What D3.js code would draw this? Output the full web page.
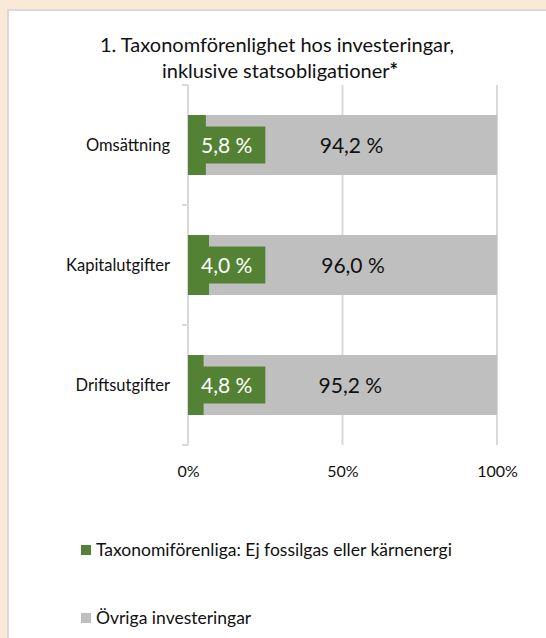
<!DOCTYPE html>
<html>
<head>
<meta charset="utf-8">
<script src="https://cdn.jsdelivr.net/npm/d3@7"></script>
<style>
  html, body { margin: 0; padding: 0; background: #fbe9d7; }
  svg { display: block; font-family: Lato, "Open Sans", sans-serif; }
</style>
</head>
<body>
<div id="chart"></div>
<script>
const categories = ['Omsättning', 'Kapitalutgifter', 'Driftsutgifter'],
	aligned = [5.8, 6.8, 5.1],          // bar lengths as drawn, in %
	alignedLabels = ['5,8 %', '4,0 %', '4,8 %'],
	otherLabels = ['94,2 %', '96,0 %', '95,2 %'],
	xTicks = [0, 50, 100],
	seriesNames = ['Taxonomiförenliga: Ej fossilgas eller kärnenergi', 'Övriga investeringar'],
	colors = ['#548235', '#bfbfbf'],
	width = 546,
	height = 638;

const svg = d3.select('#chart')
	.append('svg')
	.attr('width', width)
	.attr('height', height);

// white panel with grey edge
svg.append('rect')
	.attr('x', 8).attr('y', 10)
	.attr('width', width).attr('height', height)
	.attr('fill', 'white')
	.attr('stroke', '#d9d9d9')
	.attr('stroke-width', 2);

// title
svg.append('text')
	.attr('x', 277).attr('y', 52)
	.attr('text-anchor', 'middle')
	.attr('font-size', 20)
	.attr('fill', '#111')
	.text('1. Taxonomförenlighet hos investeringar,');
const t2 = svg.append('text')
	.attr('x', 280).attr('y', 78)
	.attr('text-anchor', 'middle')
	.attr('font-size', 20)
	.attr('fill', '#111');
t2.append('tspan').text('inklusive statsobligationer');
t2.append('tspan').attr('font-weight', 'bold').text('*');

// scales
let x = d3.scaleLinear().domain([0, 100]).range([188, 497]);
let y = d3.scaleBand().domain(categories).range([85, 445])
	.paddingInner(0.5).paddingOuter(0.25);

// gridlines
svg.append('g')
	.selectAll('line')
	.data(xTicks.slice(1))
	.enter()
	.append('line')
		.attr('x1', d => x(d)).attr('x2', d => x(d))
		.attr('y1', 85).attr('y2', 445)
		.attr('stroke', '#d9d9d9')
		.attr('stroke-width', 2);

// category axis: line plus ticks between categories
const bounds = d3.range(categories.length + 1).map(i => y.range()[0] + i * y.step());
const yAxisG = svg.append('g');
yAxisG.append('line')
	.attr('x1', x(0)).attr('x2', x(0))
	.attr('y1', 85).attr('y2', 445)
	.attr('stroke', '#d9d9d9').attr('stroke-width', 2);
yAxisG.selectAll('line.tick')
	.data(bounds)
	.enter()
	.append('line')
		.attr('class', 'tick')
		.attr('x1', x(0) - 6).attr('x2', x(0))
		.attr('y1', d => d).attr('y2', d => d)
		.attr('stroke', '#d9d9d9').attr('stroke-width', 2);
yAxisG.selectAll('text')
	.data(categories)
	.enter()
	.append('text')
		.attr('x', 170)
		.attr('y', d => y(d) + y.bandwidth() / 2)
		.attr('dy', '0.35em')
		.attr('text-anchor', 'end')
		.attr('font-size', 16.5)
		.attr('fill', '#111')
		.text(d => d);

// x axis labels
let xAxis = d3.axisBottom(x).tickValues(xTicks).tickSize(0).tickPadding(0)
	.tickFormat(d => d + '%');
svg.append('g')
	.attr('transform', 'translate(0,466)')
	.call(xAxis)
	.call(g => g.select('.domain').remove())
	.selectAll('text')
		.attr('font-size', 16)
		.attr('font-family', 'Lato, sans-serif')
		.attr('fill', '#111');

// bars
const rows = svg.append('g')
	.selectAll('g')
	.data(categories)
	.enter()
	.append('g');

rows.append('rect')
	.attr('x', (d, i) => x(aligned[i]))
	.attr('y', d => y(d))
	.attr('width', (d, i) => x(100) - x(aligned[i]))
	.attr('height', y.bandwidth())
	.attr('fill', colors[1]);

rows.append('rect')
	.attr('x', x(0))
	.attr('y', d => y(d))
	.attr('width', (d, i) => x(aligned[i]) - x(0))
	.attr('height', y.bandwidth())
	.attr('fill', colors[0]);

// grey segment labels
rows.append('text')
	.attr('x', (d, i) => (x(aligned[i]) + x(100)) / 2)
	.attr('y', d => y(d) + y.bandwidth() / 2)
	.attr('dy', '0.36em')
	.attr('text-anchor', 'middle')
	.attr('font-size', 21)
	.attr('fill', '#111')
	.text((d, i) => otherLabels[i]);

// green segment labels in a filled box
rows.each(function(d, i) {
	const g = d3.select(this);
	const box = g.append('rect').attr('fill', colors[0]);
	const t = g.append('text')
		.attr('y', y(d) + y.bandwidth() / 2)
		.attr('dy', '0.36em')
		.attr('text-anchor', 'middle')
		.attr('font-size', 21)
		.attr('fill', 'white')
		.text(alignedLabels[i]);
	const w = t.node().getComputedTextLength() + 26,
		h = 37,
		left = Math.max(x(0), (x(0) + x(aligned[i])) / 2 - w / 2);
	box.attr('x', left).attr('y', y(d) + y.bandwidth() / 2 - h / 2)
		.attr('width', w).attr('height', h);
	t.attr('x', left + w / 2);
});

// legend
const legend = svg.append('g')
	.selectAll('g')
	.data(seriesNames)
	.enter()
	.append('g')
		.attr('transform', (d, i) => `translate(81,${550 + i * 68})`);
legend.append('rect')
	.attr('x', 0).attr('y', -5)
	.attr('width', 10).attr('height', 10)
	.attr('fill', (d, i) => colors[i]);
legend.append('text')
	.attr('x', 15)
	.attr('dy', '0.35em')
	.attr('font-size', 17.5)
	.attr('fill', '#111')
	.text(d => d);
</script>
</body>
</html>
